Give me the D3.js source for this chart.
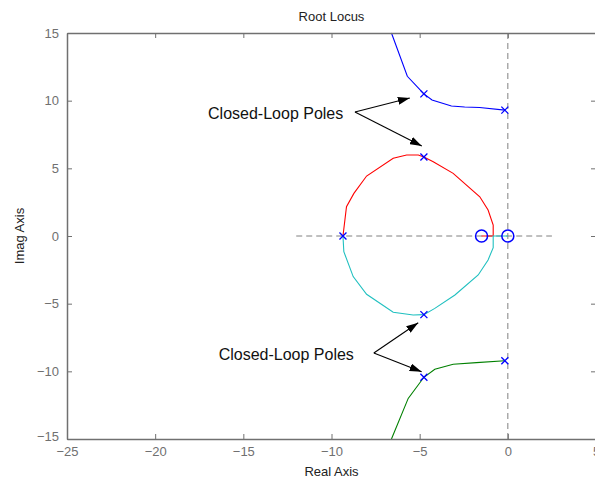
<!DOCTYPE html>
<html>
<head>
<meta charset="utf-8">
<script src="https://cdn.jsdelivr.net/npm/d3@7"></script>
<style>
  body { margin: 0; background: #fff; }
  svg { display: block; font-family: "Liberation Sans", Arial, sans-serif; }
  .axis path, .axis line { stroke: #707070; }
  .axis text { fill: #707070; font-size: 13px; }
</style>
</head>
<body>
<div id="chart"></div>
<script>
// root locus branches (real, imag)
var blueBranch = [[-6.6, 15], [-5.7, 11.8], [-4.76, 10.5], [-4.3, 10.05], [-3.2, 9.6], [-2.45, 9.53], [-1.6, 9.5], [-0.17, 9.3]];
var greenBranch = [[-6.6, -15], [-5.65, -12.0], [-4.76, -10.44], [-4.14, -9.85], [-3.1, -9.48], [-1.78, -9.36], [-0.17, -9.22]];
var redBranch = [[-9.35, 0], [-9.24, 1.18], [-9.15, 2.17], [-8.73, 3.15], [-8.01, 4.43], [-6.5, 5.74], [-5.74, 5.99], [-5.08, 5.99],
  [-4.76, 5.84], [-4.23, 5.49], [-3.1, 4.63], [-1.59, 2.9], [-1.12, 1.92], [-0.83, 0.81], [-0.83, 0], [-1.49, 0]];
var cyanBranch = [[-9.35, 0], [-9.3, -1.16], [-8.77, -3.0], [-8.01, -4.31], [-6.5, -5.64], [-5.37, -5.84], [-4.76, -5.81],
  [-4.14, -5.35], [-3.0, -4.36], [-1.68, -2.88], [-1.12, -1.77], [-0.83, -0.86], [-0.83, 0], [0, 0]];

var poles = [[-4.76, 10.5], [-0.17, 9.3], [-4.76, 5.84], [-9.35, 0], [-4.76, -5.81], [-4.76, -10.44], [-0.17, -9.22]];
var zeros = [[-1.49, 0], [0, 0]];

var xTicks = [-25, -20, -15, -10, -5, 0, 5];
var yTicks = [-15, -10, -5, 0, 5, 10, 15];

// annotation arrows: text anchor, start of arrows, arrow tips
var notes = [
  { label: "Closed-Loop Poles", at: [-17.0, 9.0], from: [-8.67, 9.16], tips: [[-5.56, 10.2], [-4.88, 6.65]] },
  { label: "Closed-Loop Poles", at: [-16.4, -8.8], from: [-7.6, -8.65], tips: [[-5.08, -6.41], [-4.89, -10.03]] }
];

var width = 595, height = 481;
var margin = { top: 33, right: -1, bottom: 42, left: 67 };

var svg = d3.select("#chart").append("svg")
  .attr("width", width)
  .attr("height", height);

var x = d3.scaleLinear().domain([-25, 5]).range([margin.left, width - margin.right]);
var y = d3.scaleLinear().domain([-15, 15]).range([height - margin.bottom, margin.top]);

var defs = svg.append("defs");
defs.append("marker")
  .attr("id", "head")
  .attr("viewBox", "0 0 12 8")
  .attr("refX", 12).attr("refY", 4)
  .attr("markerWidth", 12).attr("markerHeight", 8)
  .attr("markerUnits", "userSpaceOnUse")
  .attr("orient", "auto")
  .append("path")
  .attr("d", "M0,0L12,4L0,8Z")
  .attr("fill", "#000");

// dashed reference lines
svg.append("line")
  .attr("x1", x(-12)).attr("x2", x(2.5))
  .attr("y1", y(0)).attr("y2", y(0))
  .attr("stroke", "#808080").attr("stroke-dasharray", "6,4");
svg.append("line")
  .attr("x1", x(0)).attr("x2", x(0))
  .attr("y1", y(15)).attr("y2", y(-15))
  .attr("stroke", "#808080").attr("stroke-dasharray", "6,4");

var line = d3.line().x(d => x(d[0])).y(d => y(d[1]));

var branches = [
  { pts: blueBranch, colour: "#0000ff" },
  { pts: greenBranch, colour: "#008000" },
  { pts: redBranch, colour: "#ff0000" },
  { pts: cyanBranch, colour: "#20c0c0" }
];

svg.selectAll("path.branch")
  .data(branches)
  .enter()
  .append("path")
  .attr("class", "branch")
  .attr("d", d => line(d.pts))
  .attr("fill", "none")
  .attr("stroke", d => d.colour)
  .attr("stroke-width", 1.1);

// pole markers
var s = 3.5;
svg.selectAll("path.pole")
  .data(poles)
  .enter()
  .append("path")
  .attr("class", "pole")
  .attr("d", d => {
    var px = x(d[0]), py = y(d[1]);
    return `M${px - s},${py - s}L${px + s},${py + s}M${px - s},${py + s}L${px + s},${py - s}`;
  })
  .attr("stroke", "#0000ff")
  .attr("stroke-width", 1.3);

// zero markers
svg.selectAll("circle.zero")
  .data(zeros)
  .enter()
  .append("circle")
  .attr("class", "zero")
  .attr("cx", d => x(d[0]))
  .attr("cy", d => y(d[1]))
  .attr("r", 6)
  .attr("fill", "none")
  .attr("stroke", "#0000ff")
  .attr("stroke-width", 1.5);

// axes, box style with ticks inward
var plotH = height - margin.top - margin.bottom;
var plotW = width - margin.left - margin.right;

var xAxis = svg.append("g").attr("class", "axis")
  .attr("transform", `translate(0,${height - margin.bottom})`)
  .call(d3.axisBottom(x).tickValues(xTicks).tickSizeInner(-5).tickSizeOuter(0).tickPadding(8));
var xTop = svg.append("g").attr("class", "axis")
  .attr("transform", `translate(0,${margin.top})`)
  .call(d3.axisTop(x).tickValues(xTicks).tickSizeInner(-5).tickSizeOuter(0).tickFormat(""));
var yAxis = svg.append("g").attr("class", "axis")
  .attr("transform", `translate(${margin.left},0)`)
  .call(d3.axisLeft(y).tickValues(yTicks).tickSizeInner(-5).tickSizeOuter(0).tickPadding(8));
var yRight = svg.append("g").attr("class", "axis")
  .attr("transform", `translate(${width - margin.right},0)`)
  .call(d3.axisRight(y).tickValues(yTicks).tickSizeInner(-5).tickSizeOuter(0).tickFormat(""));

svg.selectAll(".axis path.domain").attr("stroke-width", 1.5);
// bottom-left corner labels sit apart as in the picture
yAxis.selectAll(".tick text").filter(d => d == -15).attr("dy", "0.1em");

// annotations
notes.forEach(n => {
  svg.append("text")
    .attr("x", x(n.at[0]))
    .attr("y", y(n.at[1]) + 5)
    .attr("font-size", 16)
    .attr("fill", "#111")
    .text(n.label);
  n.tips.forEach(t => {
    svg.append("line")
      .attr("x1", x(n.from[0])).attr("y1", y(n.from[1]))
      .attr("x2", x(t[0])).attr("y2", y(t[1]))
      .attr("stroke", "#000")
      .attr("stroke-width", 1.1)
      .attr("marker-end", "url(#head)");
  });
});

// titles
var midX = (margin.left + width - margin.right) / 2;
svg.append("text")
  .attr("x", midX).attr("y", 21)
  .attr("text-anchor", "middle")
  .attr("font-size", 13)
  .attr("fill", "#222")
  .text("Root Locus");
svg.append("text")
  .attr("x", midX).attr("y", 476)
  .attr("text-anchor", "middle")
  .attr("font-size", 13)
  .attr("fill", "#222")
  .text("Real Axis");
svg.append("text")
  .attr("transform", `translate(24,${margin.top + plotH / 2}) rotate(-90)`)
  .attr("text-anchor", "middle")
  .attr("font-size", 13)
  .attr("fill", "#222")
  .text("Imag Axis");
</script>
</body>
</html>
